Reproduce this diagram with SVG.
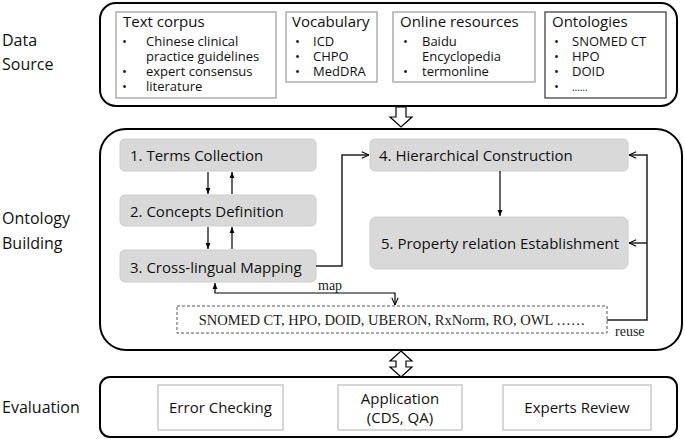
<svg xmlns="http://www.w3.org/2000/svg" width="685" height="439" viewBox="0 0 685 439">
<defs>
<style>
.lbl{font-family:"Open Sans","Noto Sans",sans-serif;font-size:16px;fill:#111}
.t{font-family:"Open Sans","Noto Sans",sans-serif;fill:#111}
.ttl{font-size:15px}
.it{font-size:13px}
.step{font-family:"Open Sans","Noto Sans",sans-serif;font-size:15px;fill:#111}
.serif{font-family:"Liberation Serif","Times New Roman",serif;fill:#222}
.cont{fill:#fff;stroke:#000;stroke-width:2}
.src{fill:#fff;stroke:#999;stroke-width:1.2}
.stepbox{fill:#d9d9d9;stroke:#ccc;stroke-width:1}
.evalbox{fill:#fff;stroke:#bbb;stroke-width:1.2}
.ln{fill:none;stroke:#000;stroke-width:1.2}
.ln2{fill:none;stroke:#222;stroke-width:1.5}
</style>
<marker id="tri" viewBox="0 0 10 10" refX="10" refY="5" markerWidth="5" markerHeight="5" orient="auto-start-reverse"><path d="M0,1 L10,5 L0,9 z" fill="#000"/></marker>
<marker id="chev" viewBox="0 0 10 10" refX="10" refY="5" markerWidth="8" markerHeight="8" orient="auto-start-reverse" markerUnits="userSpaceOnUse"><path d="M1,1 L10,5 L1,9" fill="none" stroke="#000" stroke-width="1.3"/></marker>
</defs>
<rect width="685" height="439" fill="#fff"/>

<g id="labels">
<text class="lbl" x="2" y="46">Data</text>
<text class="lbl" x="2" y="70">Source</text>
<text class="lbl" x="2" y="224">Ontology</text>
<text class="lbl" x="2" y="249">Building</text>
<text class="lbl" x="2" y="413">Evaluation</text>
</g>

<g id="data-source">
<rect class="cont" x="100" y="3" width="577" height="103" rx="16"/>
<g id="text-corpus">
<rect class="src" x="116" y="12" width="160" height="86"/>
<text class="t ttl" x="123" y="27">Text corpus</text>
<text class="t it" x="122" y="46">•</text><text class="t it" x="146" y="46">Chinese clinical</text>
<text class="t it" x="146" y="61">practice guidelines</text>
<text class="t it" x="122" y="76">•</text><text class="t it" x="146" y="76">expert consensus</text>
<text class="t it" x="122" y="91">•</text><text class="t it" x="146" y="91">literature</text>
</g>
<g id="vocabulary">
<rect class="src" x="286" y="12" width="91" height="70"/>
<text class="t ttl" x="292" y="27">Vocabulary</text>
<text class="t it" x="295" y="46">•</text><text class="t it" x="313" y="46">ICD</text>
<text class="t it" x="295" y="61">•</text><text class="t it" x="313" y="61">CHPO</text>
<text class="t it" x="295" y="76">•</text><text class="t it" x="313" y="76">MedDRA</text>
</g>
<g id="online-resources">
<rect class="src" x="393" y="12" width="142" height="70"/>
<text class="t ttl" x="400" y="27">Online resources</text>
<text class="t it" x="403" y="46">•</text><text class="t it" x="422" y="46">Baidu</text>
<text class="t it" x="422" y="61">Encyclopedia</text>
<text class="t it" x="403" y="76">•</text><text class="t it" x="422" y="76">termonline</text>
</g>
<g id="ontologies">
<rect x="545" y="12" width="121" height="86" fill="#fff" stroke="#333" stroke-width="1.2"/>
<text class="t ttl" x="552" y="27">Ontologies</text>
<text class="t it" x="554" y="46">•</text><text class="t it" x="572" y="46">SNOMED CT</text>
<text class="t it" x="554" y="61">•</text><text class="t it" x="572" y="61">HPO</text>
<text class="t it" x="554" y="76">•</text><text class="t it" x="572" y="76">DOID</text>
<text class="t it" x="554" y="91">•</text><text class="t" x="572" y="91" font-size="10">……</text>
</g>
</g>

<g id="arrow-down">
<path d="M396,107 H406 V117 H412 L401,127 L390,117 H396 Z" fill="#fff" stroke="#000" stroke-width="1.2"/>
</g>

<g id="ontology-building">
<rect class="cont" x="100" y="129" width="582" height="221" rx="26"/>
</g>

<g id="step1"><rect class="stepbox" x="120" y="139" width="196" height="32" rx="5"/><text class="step" x="130" y="161">1. Terms Collection</text></g>
<g id="step2"><rect class="stepbox" x="120" y="195" width="196" height="31" rx="5"/><text class="step" x="130" y="217">2. Concepts Definition</text></g>
<g id="step3"><rect class="stepbox" x="120" y="250" width="196" height="32" rx="5"/><text class="step" x="130" y="273">3. Cross-lingual Mapping</text></g>
<g id="step4"><rect class="stepbox" x="370" y="139" width="258" height="32" rx="5"/><text class="step" x="379" y="161">4. Hierarchical Construction</text></g>
<g id="step5"><rect class="stepbox" x="370" y="217" width="258" height="52" rx="6"/><text class="step" x="381" y="249">5. Property relation Establishment</text></g>

<g id="resources">
<rect x="177" y="306" width="430" height="27" fill="#fff" stroke="#555" stroke-width="1" stroke-dasharray="3,2"/>
<text class="serif" x="392" y="325" font-size="14.5" text-anchor="middle">SNOMED CT, HPO, DOID, UBERON, RxNorm, RO, OWL ……</text>
</g>

<g id="connectors">
<line class="ln" x1="208" y1="172" x2="208" y2="194" marker-end="url(#tri)"/>
<line class="ln" x1="232" y1="194" x2="232" y2="172" marker-end="url(#tri)"/>
<line class="ln" x1="208" y1="227" x2="208" y2="249" marker-end="url(#tri)"/>
<line class="ln" x1="232" y1="249" x2="232" y2="227" marker-end="url(#tri)"/>
<line class="ln" x1="500" y1="171" x2="500" y2="216" marker-end="url(#tri)"/>
<path class="ln2" d="M316,266 H342 V155 H369" marker-end="url(#chev)"/>
<path class="ln2" d="M607,320 H647 V155 H629" marker-end="url(#chev)"/>
<path class="ln2" d="M647,243 H629" marker-end="url(#chev)"/>
<path class="ln" d="M215,283 V293 H395 V305" marker-start="url(#tri)" marker-end="url(#chev)"/>
<text class="serif" x="318" y="290" font-size="14">map</text>
<text class="serif" x="615" y="336" font-size="14">reuse</text>
</g>

<g id="arrow-double">
<path d="M401,351 L412,361 H406 V367 H412 L401,377 L390,367 H396 V361 H390 Z" fill="#fff" stroke="#000" stroke-width="1.2"/>
</g>

<g id="evaluation">
<rect class="cont" x="100" y="377" width="577" height="60" rx="10"/>
<g id="error-checking"><rect class="evalbox" x="158" y="385" width="125" height="45"/><text class="step" x="220.5" y="413" text-anchor="middle">Error Checking</text></g>
<g id="application"><rect class="evalbox" x="338" y="385" width="124" height="45"/><text class="step" x="400" y="404" text-anchor="middle">Application</text><text class="step" x="400" y="423" text-anchor="middle">(CDS, QA)</text></g>
<g id="experts-review"><rect class="evalbox" x="503" y="385" width="148" height="45"/><text class="step" x="577" y="413" text-anchor="middle">Experts Review</text></g>
</g>
</svg>
